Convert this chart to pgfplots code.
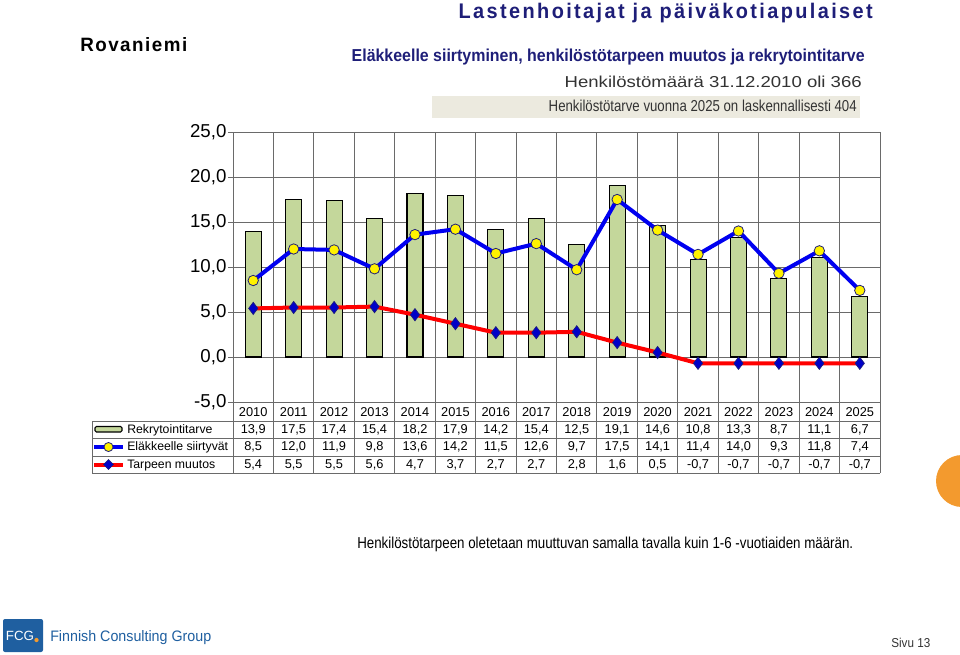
\documentclass[border=0pt]{standalone}
\usepackage{pgfplots}
\pgfplotsset{compat=1.18}
\usepackage{pgfplotstable}
\usepackage{fontspec}
\setmainfont{Liberation Sans}
\definecolor{navy}{HTML}{1E1E78}
\definecolor{barg}{HTML}{C4D79B}
\definecolor{gridc}{HTML}{6A6A6A}
\definecolor{boxg}{HTML}{ECEADF}
\definecolor{fcgblue}{HTML}{1F5FA0}
\definecolor{fcgorange}{HTML}{F39A2E}
\definecolor{lblue}{HTML}{0000F0}
\definecolor{lred}{HTML}{FF0000}
\definecolor{dblue}{HTML}{0000C8}
\definecolor{txtg}{HTML}{333333}

\pgfplotstableread{
i year rek elak muutos
0 2010 13.9 8.5 5.4
1 2011 17.5 12.0 5.5
2 2012 17.4 11.9 5.5
3 2013 15.4 9.8 5.6
4 2014 18.2 13.6 4.7
5 2015 17.9 14.2 3.7
6 2016 14.2 11.5 2.7
7 2017 15.4 12.6 2.7
8 2018 12.5 9.7 2.8
9 2019 19.1 17.5 1.6
10 2020 14.6 14.1 0.5
11 2021 10.8 11.4 -0.7
12 2022 13.3 14.0 -0.7
13 2023 8.7 9.3 -0.7
14 2024 11.1 11.8 -0.7
15 2025 6.7 7.4 -0.7
}\data

\newcommand\tabfont{\fontsize{9.6}{11}\selectfont}
\newcommand\labfont{\fontsize{9.2}{11}\selectfont}
\pgfkeys{/pgf/number format/.cd, fixed, fixed zerofill, precision=1, use comma, assume math mode=true}

\begin{document}
\begin{tikzpicture}
\begin{scope}[x=0.75pt,y=-0.75pt]
\path[use as bounding box] (0,0) rectangle (960,654);

% header texts
\node[anchor=base east, inner sep=0] at (873,18) {\resizebox{310.5pt}{11.5pt}{\bfseries\addfontfeature{LetterSpace=12}\color{navy}Lastenhoitajat ja päiväkotiapulaiset}};
\node[anchor=base west, inner sep=0] at (80,51) {\resizebox{80.25pt}{10.5pt}{\bfseries\addfontfeature{LetterSpace=8}Rovaniemi}};
\node[anchor=base east, inner sep=0] at (865,61) {\resizebox{384.75pt}{9.4pt}{\bfseries\color{navy}Eläkkeelle siirtyminen, henkilöstötarpeen muutos ja rekrytointitarve}};
\node[anchor=base east, inner sep=0] at (862,87) {\resizebox{222.75pt}{8.6pt}{\color{txtg}Henkilöstömäärä 31.12.2010 oli 366}};
\fill[boxg] (432,96) rectangle (860,118);
\node[anchor=base east, inner sep=0] at (857,111) {\resizebox{231pt}{8.6pt}{\color{txtg}Henkilöstötarve vuonna 2025 on laskennallisesti 404}};
\end{scope}

\begin{axis}[at={(174.75pt,-301.5pt)}, anchor=south west, scale only axis,
  width=485.25pt, height=202.5pt,
  xmin=-0.5, xmax=15.5, ymin=-5, ymax=25,
  xtick={-0.5,0.5,...,15.5}, xticklabels={}, xmajorticks=false,
  ytick={-5,0,5,10,15,20,25},
  yticklabels={{-5,0},{0,0},{5,0},{10,0},{15,0},{20,0},{25,0}},
  ytick pos=left, tick align=outside, major tick length=3.75pt,
  xmajorgrids, ymajorgrids,
  grid style={gridc, line width=0.75pt},
  axis line style={gridc, line width=0.75pt},
  tick style={gridc, line width=0.75pt},
  yticklabel style={font=\fontsize{14}{14}\selectfont, inner xsep=1pt},
  clip=false]
\addplot[ybar, bar width=12pt, fill=barg, draw=black, line width=0.8pt] table[x=i,y=rek]{\data};
\addplot[lblue, line width=3pt, mark=*, mark size=3.9pt, mark options={fill=yellow, draw=navy, line width=0.6pt}] table[x=i,y=elak]{\data};
\addplot[lred, line width=3pt, mark=diamond*, mark size=4.6pt, mark options={fill=dblue, draw=navy, line width=0.5pt}] table[x=i,y=muutos]{\data};
\end{axis}

\begin{scope}[x=0.75pt,y=-0.75pt]
% data table
\foreach \k in {0,...,16} \draw[gridc, line width=0.75pt] ({233+40.4375*\k},402) -- ({233+40.4375*\k},473);
\foreach \yy in {421,438,456,473} \draw[gridc, line width=0.75pt] (92,\yy) -- (880,\yy);
\draw[gridc, line width=0.75pt] (92,421) -- (92,473);

\foreach \j in {0,...,15}{
  \pgfmathsetmacro\cx{233+40.4375*(\j+0.5)}
  \pgfplotstablegetelem{\j}{year}\of\data
  \node[font=\tabfont] at (\cx,412) {\pgfplotsretval};
  \pgfplotstablegetelem{\j}{rek}\of\data
  \node[font=\tabfont] at (\cx,429.5) {\pgfmathprintnumber{\pgfplotsretval}};
  \pgfplotstablegetelem{\j}{elak}\of\data
  \node[font=\tabfont] at (\cx,447) {\pgfmathprintnumber{\pgfplotsretval}};
  \pgfplotstablegetelem{\j}{muutos}\of\data
  \node[font=\tabfont] at (\cx,464.5) {\pgfmathprintnumber{\pgfplotsretval}};
}

% legend keys
\draw[black, line width=0.8pt, fill=barg, rounded corners=1pt] (95,426.5) rectangle (122,432);
\draw[lblue, line width=3pt] (94,447) -- (123,447);
\filldraw[fill=yellow, draw=navy, line width=0.6pt] (108.5,447) circle (3.4pt);
\draw[lred, line width=3pt] (94,464.5) -- (123,464.5);
\filldraw[fill=dblue, draw=navy, line width=0.5pt] (108.5,459.5) -- (113.5,464.5) -- (108.5,469.5) -- (103.5,464.5) -- cycle;
\node[font=\labfont, anchor=base west, inner sep=0] at (127,433) {Rekrytointitarve};
\node[font=\labfont, anchor=base west, inner sep=0] at (127,450.5) {Eläkkeelle siirtyvät};
\node[font=\labfont, anchor=base west, inner sep=0] at (127,468) {Tarpeen muutos};

% footnote
\node[anchor=base west, inner sep=0] at (357,548) {\resizebox{372pt}{8.6pt}{Henkilöstötarpeen oletetaan muuttuvan samalla tavalla kuin 1-6 -vuotiaiden määrän.}};

% orange shape
\begin{scope}
\clip (0,0) rectangle (960,654);
\fill[fcgorange] (962,481) circle (19.5pt);
\end{scope}

% logo and page number
\fill[fcgblue, rounded corners=1.5pt] (3,619) rectangle (43,652);
\node[white, font=\fontsize{10}{10}\selectfont] at (20,636) {FCG};
\fill[fcgorange] (36.5,640) circle (1.6pt);
\node[anchor=base west, inner sep=0] at (50,641) {\resizebox{120.75pt}{8.25pt}{\color{fcgblue}Finnish Consulting Group}};
\node[anchor=base west, inner sep=0] at (891,647) {\resizebox{29.25pt}{7pt}{\color{txtg}Sivu 13}};
\end{scope}
\end{tikzpicture}
\end{document}
